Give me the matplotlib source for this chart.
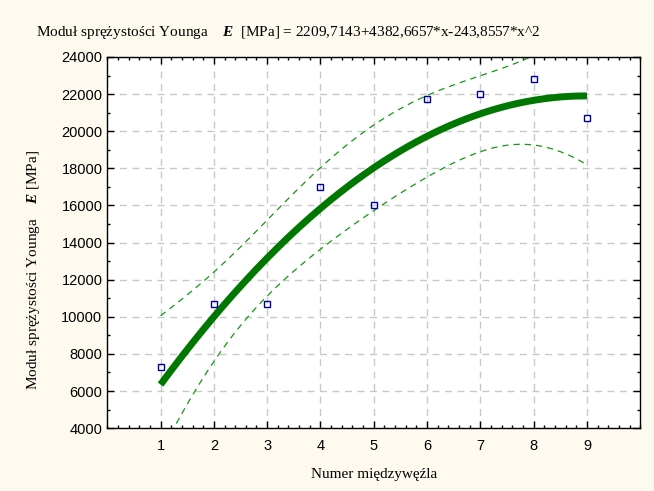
import numpy as np
import matplotlib.pyplot as plt
from matplotlib.ticker import MultipleLocator

plt.rcParams['mathtext.fontset'] = 'custom'
plt.rcParams['mathtext.bf'] = 'Liberation Serif:bold:italic'
plt.rcParams['mathtext.rm'] = 'Liberation Serif'

# dane pomiarowe
numer = [1, 2, 3, 4, 5, 6, 7, 8, 9]
modul = [7300, 10700, 10700, 17000, 16000, 21750, 22000, 22800, 20700]
# wspolczynniki z tytulu
a0, a1, a2 = 2209.7143, 4382.6657, -243.8557

x = np.array(numer, dtype=float)
y = np.array(modul, dtype=float)
xs = np.linspace(1, 9, 200)
fit = a0 + a1 * xs + a2 * xs**2

# 95% przedzial ufnosci dla regresji
X = np.column_stack([np.ones_like(x), x, x**2])
res = y - (a0 + a1 * x + a2 * x**2)
s2 = np.sum(res**2) / (len(x) - 3)
XtXi = np.linalg.inv(X.T @ X)
Xs = np.column_stack([np.ones_like(xs), xs, xs**2])
se = np.sqrt(s2 * np.einsum('ij,jk,ik->i', Xs, XtXi, Xs))
t = 2.4469
upper = fit + t * se
lower = fit - t * se

bg = '#fefaf0'
fig = plt.figure(figsize=(6.54, 4.91), dpi=100, facecolor=bg)
ax = fig.add_axes([0.164, 0.128, 0.815, 0.756])
ax.set_facecolor('white')

ax.plot(xs, upper, '--', color='#119911', lw=0.9, dashes=(5, 4))
ax.plot(xs, lower, '--', color='#119911', lw=0.9, dashes=(5, 4))
ax.plot(xs, fit, '-', color='#007700', lw=5, solid_capstyle='butt')
ax.plot(x, y, 's', ms=5, mfc='none', mec='#000099', mew=1)

ax.set_xlim(0, 10)
ax.set_ylim(4000, 24000)
ax.xaxis.set_major_locator(MultipleLocator(1))
ax.xaxis.set_minor_locator(MultipleLocator(0.2))
ax.yaxis.set_major_locator(MultipleLocator(2000))
ax.yaxis.set_minor_locator(MultipleLocator(1000))
ax.set_xticks(range(1, 10))
ax.tick_params(which='both', direction='in', top=True, right=True,
               labelsize=10.5, color='black')
ax.tick_params(which='major', length=5, width=1)
ax.tick_params(axis='x', which='major', pad=8)
ax.tick_params(which='minor', length=2.5, width=1)
for lab in ax.get_xticklabels() + ax.get_yticklabels():
    lab.set_family('Liberation Sans')
ax.grid(True, which='major', ls=(0, (5, 4)), color='#c8c8c8', lw=1)
for sp in ax.spines.values():
    sp.set_linewidth(1)

ax.set_xlabel('Numer międzywęźla', family='Liberation Serif', fontsize=11)
ax.xaxis.set_label_coords(0.5, -0.108)
ax.set_ylabel(r'Moduł sprężystości Younga    $\mathbf{E}$ [MPa]',
              family='Liberation Serif', fontsize=11)
ax.yaxis.set_label_coords(-0.122, 0.426)
fig.text(0.055, 0.933,
         r'Moduł sprężystości Younga    $\mathbf{E}$  [MPa] = 2209,7143+4382,6657*x-243,8557*x^2',
         family='Liberation Serif', fontsize=11, va='center')

fig.savefig('out.png', dpi=100, facecolor=bg)
